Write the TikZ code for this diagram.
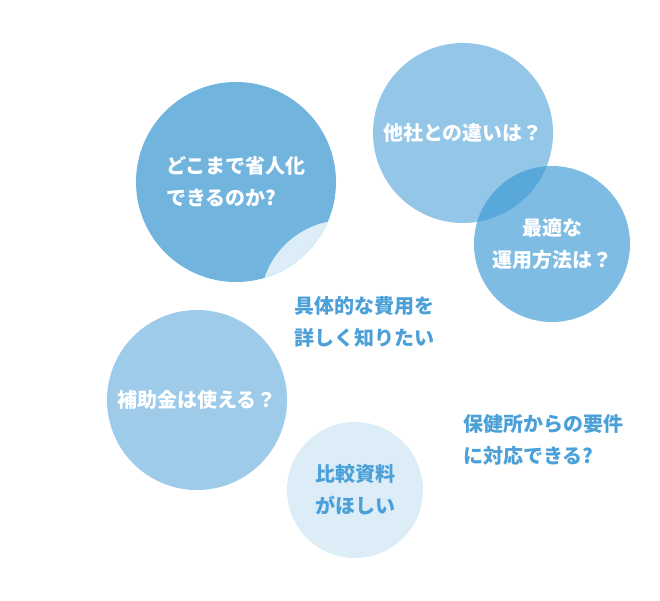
\documentclass[tikz,border=0pt]{standalone}
\usepackage{fontspec}
\newfontfamily\jpfont{Noto Sans CJK JP}
\definecolor{bubbleA}{HTML}{71B5DF}
\definecolor{bubblePale}{HTML}{DCEDF8}
\definecolor{bubbleBase}{HTML}{3A98D4}
\definecolor{bubbleD}{HTML}{9ECBEA}
\definecolor{notetext}{HTML}{4CA0D8}
\usetikzlibrary{positioning}

\begin{document}
\begin{tikzpicture}[x=1pt, y=-1pt,
                    every node/.style = {font=\jpfont\bfseries\fontsize{20}{32}\selectfont, inner sep=0pt},
                    bubble/.style = {circle, minimum size=#1, text=white, align=center, text opacity=1},
                    note/.style = {text=notetext, align=left, anchor=west}]
                \useasboundingbox (0,0) rectangle (660,600);
                \node (howfar) [bubble=200, fill=bubbleA, align=left] at (236,182) {どこまで省人化\\できるのか?};
                \begin{scope}
                    \clip (howfar.center) circle[radius=100];
                    \fill[bubblePale] (345,305) circle[radius=85];
                \end{scope}
                \node (rivals) [bubble=180, fill=bubbleBase, fill opacity=0.55] at (463,133) {他社との違いは？};
                \node (usage)  [bubble=156, fill=bubbleBase, fill opacity=0.65] at (552,244) {最適な\\運用方法は？};
                \node (grant)  [bubble=180, fill=bubbleD] at (197,400) {補助金は使える？};
                \node (compare) [bubble=136, fill=bubblePale, text=notetext] at (355,490) {比較資料\\がほしい};
                \node (cost)   [note] at (294,322) {具体的な費用を\\詳しく知りたい};
                \node (health) [note] at (463,440) {保健所からの要件\\に対応できる?};
            \end{tikzpicture}
\end{document}
